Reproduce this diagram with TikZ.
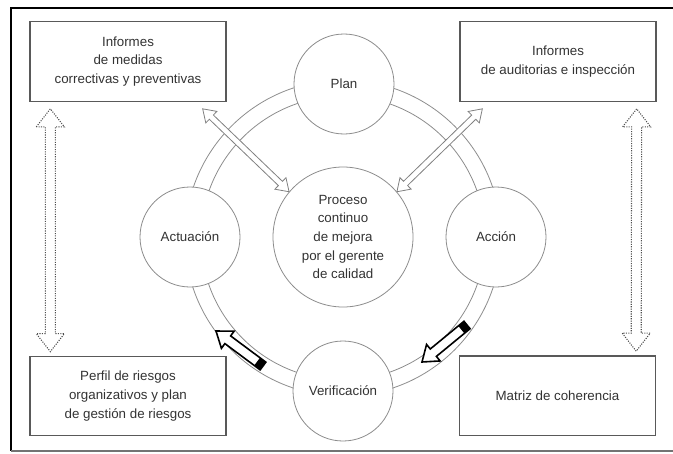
\documentclass[tikz,border=0pt]{standalone}
\usepackage{fontspec}
\setmainfont{Liberation Sans}
\usetikzlibrary{calc}

% hollow double arrow: style, end a, end b, half shaft, half head, head length
\newcommand{\dblarrow}[6]{%
\draw[#1] ($(#2)!#6!(#3)!#5!90:(#3)$) -- (#2) -- ($(#2)!#6!(#3)!#5!-90:(#3)$) -- ($(#2)!#6!(#3)!#4!-90:(#3)$) -- ($(#3)!#6!(#2)!#4!90:(#2)$) -- ($(#3)!#6!(#2)!#5!90:(#2)$) -- (#3) -- ($(#3)!#6!(#2)!#5!-90:(#2)$) -- ($(#3)!#6!(#2)!#4!-90:(#2)$) -- ($(#2)!#6!(#3)!#4!90:(#3)$) -- cycle ;}
% hollow single arrow with black tail: tail, tip
\newcommand{\ringarrow}[2]{%
\draw[ringarr] ($(#1)!3.6pt!90:(#2)$) -- ($(#2)!11pt!(#1)!3.6pt!-90:(#1)$) -- ($(#2)!11pt!(#1)!8pt!-90:(#1)$) -- (#2) -- ($(#2)!11pt!(#1)!8pt!90:(#1)$) -- ($(#2)!11pt!(#1)!3.6pt!90:(#1)$) -- ($(#1)!3.6pt!-90:(#2)$) -- cycle ;
\fill[black] ($(#1)!3.6pt!90:(#2)$) -- ($(#1)!5.5pt!(#2)!3.6pt!90:(#2)$) -- ($(#1)!5.5pt!(#2)!3.6pt!-90:(#2)$) -- ($(#1)!3.6pt!-90:(#2)$) -- cycle ;}

\begin{document}
\begin{tikzpicture}[x=0.75pt,y=0.75pt,yscale=-1,xscale=1,
  txt/.style={font=\fontsize{10}{14}\selectfont, text=black!80, align=center},
  box/.style={txt, draw=black!65, line width=1pt, fill=white, minimum width=147pt, minimum height=59.5pt},
  stage/.style={txt, circle, draw=black!45, line width=0.6pt, fill=white, inner sep=0pt, minimum size=75pt},
  core/.style={stage, minimum size=105pt},
  linkarr/.style={draw=black!50, line width=0.6pt, fill=white},
  dotarr/.style={draw=black!70, line width=0.8pt, densely dotted},
  ringarr/.style={draw=black, line width=1.2pt, fill=white, line join=miter}]
\useasboundingbox (0,0) rectangle (673,453);

%Shape: Frame
\draw [line width=1.2pt] (673,8) -- (11,8) -- (11,451) ;
\draw [black!55, line width=1.4pt] (11,451) -- (673,451) ;

%Shape: Ring
\coordinate (ring) at (343,238);
\draw [black!45, line width=0.6pt] (ring) circle [radius=142] ;
\draw [black!45, line width=0.6pt] (ring) circle [radius=158] ;

% Circle Nodes
\node [stage] (plan) at (344,84) {Plan};
\node [stage] (actua) at (190,237) {Actuación};
\node [stage] (accion) at (496,237) {Acción};
\node [stage] (verif) at (343,391) {Verificación};
\node [core] (proc) at (343,237) {Proceso\\continuo\\de mejora\\por el gerente\\de calidad};

% Box Nodes
\node [box] (med) at (128,61.5) {Informes\\de medidas\\correctivas y preventivas};
\node [box] (aud) at (558,61.5) {Informes\\de auditorias e inspección};
\node [box] (perfil) at (128,396) {Perfil de riesgos\\organizativos y plan\\de gestión de riesgos};
\node [box] (matriz) at (557.5,395.5) {Matriz de coherencia};

% Arrow ends
\coordinate (medA) at ($(med.south east)+(-24,7)$);
\coordinate (audA) at ($(aud.south west)+(23,7)$);
\coordinate (lTop) at ($(med.south west)+(21,7)$);
\coordinate (lBot) at ($(perfil.north west)+(21,-4)$);
\coordinate (rTop) at ($(aud.south east)+(-20,7)$);
\coordinate (rBot) at ($(matriz.north east)+(-20,-4)$);
\coordinate (vTail) at ($(ring)+(-80,128)$);
\coordinate (vTip) at ($(ring)+(-127,93)$);
\coordinate (aTail) at ($(ring)+(124,87)$);
\coordinate (aTip) at ($(ring)+(79,124)$);

%Double Arrow
\dblarrow{linkarr}{medA}{proc.140}{2.2pt}{6pt}{9pt}
\dblarrow{linkarr}{audA}{proc.40}{2.2pt}{6pt}{9pt}
%Dotted Double Arrow
\dblarrow{dotarr}{lTop}{lBot}{3.75pt}{10.5pt}{13.5pt}
\dblarrow{dotarr}{rTop}{rBot}{3.75pt}{10.5pt}{13.5pt}
%Ring Arrow
\ringarrow{vTail}{vTip}
\ringarrow{aTail}{aTip}

\end{tikzpicture}
\end{document}
